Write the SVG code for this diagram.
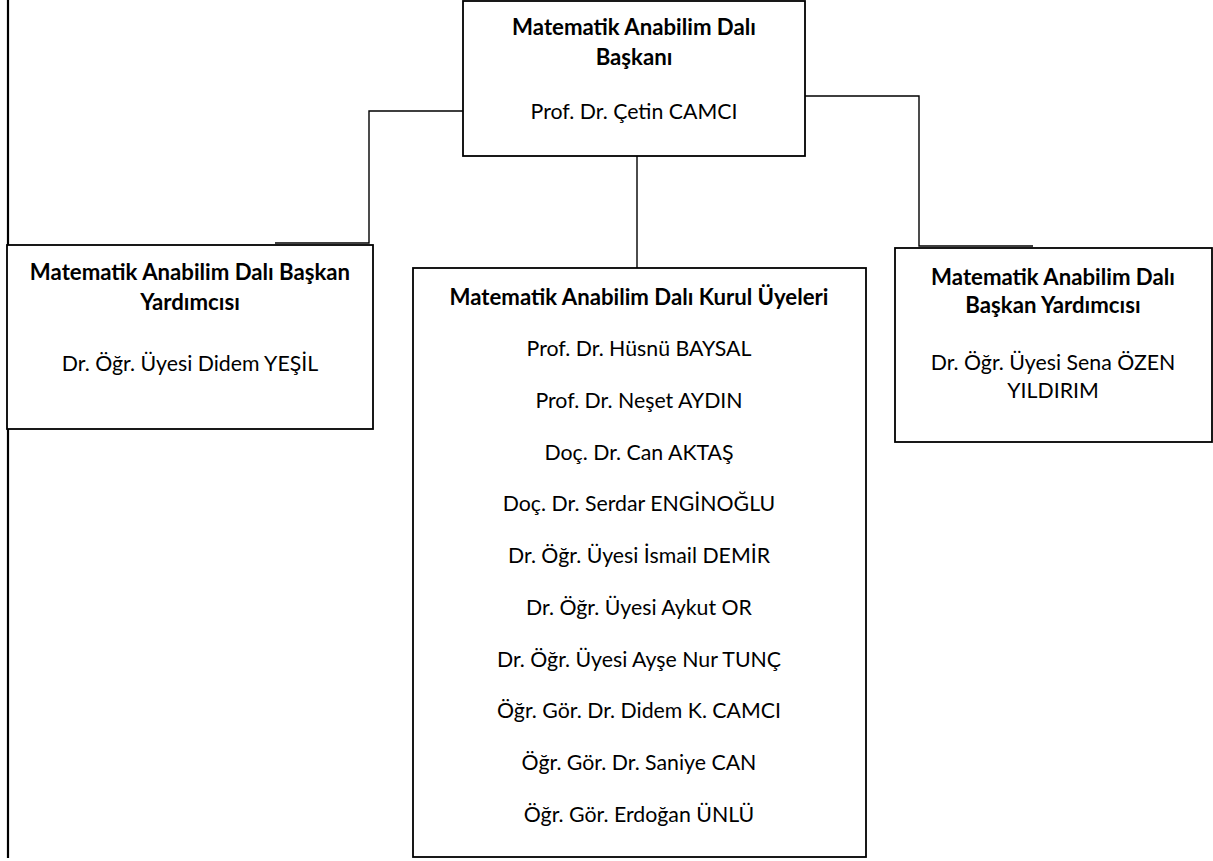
<svg xmlns="http://www.w3.org/2000/svg" width="1213" height="861" viewBox="0 0 1213 861">
<style>
.box{fill:#fff;stroke:#000;stroke-width:1.8}
.con{fill:none;stroke:#000;stroke-width:1.4}
text{font-family:Lato,"Open Sans",sans-serif;font-size:21.3px;fill:#000;text-anchor:middle}
.b{font-weight:bold;font-size:22.2px}
</style>
<rect width="1213" height="861" fill="#fff"/>
<g id="connectors">
<line class="con" x1="8" y1="0" x2="8" y2="858" style="stroke-width:2.2"/>
<path class="con" d="M463,111 H369 V243 H275"/>
<path class="con" d="M805,96 H919 V246 H1033"/>
<line class="con" x1="637" y1="156" x2="637" y2="268"/>
</g>
<g id="head">
<rect class="box" x="463" y="1" width="342" height="155"/>
<text class="b" x="634" y="35">Matematik Anabilim Dalı</text>
<text class="b" x="634" y="65">Başkanı</text>
<text x="634" y="119">Prof. Dr. Çetin CAMCI</text>
</g>
<g id="deputy-left">
<rect class="box" x="7" y="245" width="366" height="184"/>
<text class="b" x="190" y="280">Matematik Anabilim Dalı Başkan</text>
<text class="b" x="190" y="310">Yardımcısı</text>
<text x="190" y="371">Dr. Öğr. Üyesi Didem YEŞİL</text>
</g>
<g id="deputy-right">
<rect class="box" x="895" y="248" width="317" height="194"/>
<text class="b" x="1053" y="285">Matematik Anabilim Dalı</text>
<text class="b" x="1053" y="313">Başkan Yardımcısı</text>
<text x="1053" y="370">Dr. Öğr. Üyesi Sena ÖZEN</text>
<text x="1053" y="398">YILDIRIM</text>
</g>
<g id="board">
<rect class="box" x="413" y="268" width="453" height="589"/>
<text class="b" x="639" y="305">Matematik Anabilim Dalı Kurul Üyeleri</text>
<text x="639" y="356">Prof. Dr. Hüsnü BAYSAL</text>
<text x="639" y="408">Prof. Dr. Neşet AYDIN</text>
<text x="639" y="460">Doç. Dr. Can AKTAŞ</text>
<text x="639" y="511">Doç. Dr. Serdar ENGİNOĞLU</text>
<text x="639" y="563">Dr. Öğr. Üyesi İsmail DEMİR</text>
<text x="639" y="615">Dr. Öğr. Üyesi Aykut OR</text>
<text x="639" y="667">Dr. Öğr. Üyesi Ayşe Nur TUNÇ</text>
<text x="639" y="718">Öğr. Gör. Dr. Didem K. CAMCI</text>
<text x="639" y="770">Öğr. Gör. Dr. Saniye CAN</text>
<text x="639" y="822">Öğr. Gör. Erdoğan ÜNLÜ</text>
</g>
</svg>
